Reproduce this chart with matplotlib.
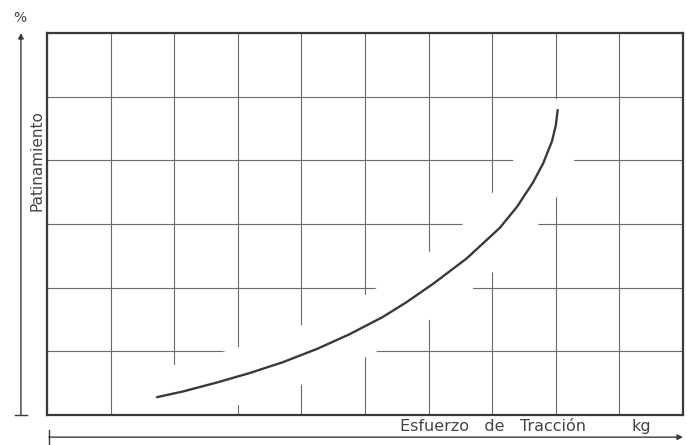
import matplotlib
matplotlib.use("Agg")
import matplotlib.pyplot as plt
from matplotlib.patches import Rectangle

# slip (%) vs tractive effort (kg) in grid units
esfuerzo = [1.73, 2.14, 2.67, 3.19, 3.71, 4.25, 4.76, 5.28, 5.65, 6.07,
            6.60, 7.12, 7.39, 7.64, 7.80, 7.94, 8.00, 8.03]
patinamiento = [0.28, 0.37, 0.51, 0.66, 0.83, 1.04, 1.27, 1.54, 1.77, 2.06,
                2.46, 2.94, 3.27, 3.65, 3.95, 4.30, 4.55, 4.79]

x_cells = list(range(11))
y_cells = list(range(7))

ink = "#3a3a3a"
grid_ink = "#6a6a6a"
label_ink = "#444444"

fig = plt.figure(figsize=(6.87, 4.45), dpi=100)
ax = fig.add_axes([47 / 687, 30 / 445, 636 / 687, 382 / 445])
ax.set_xlim(0, 10)
ax.set_ylim(0, 6)
ax.set_xticks(x_cells)
ax.set_yticks(y_cells)
ax.tick_params(length=0, labelbottom=False, labelleft=False)
ax.set_axisbelow(True)
ax.grid(True, color=grid_ink, lw=0.8)
for sp in ax.spines.values():
    sp.set_color(ink)
    sp.set_linewidth(1.6)

# white band that interrupts the grid around the curve, as in the drawing
halo, = ax.plot(esfuerzo, patinamiento, color="white", lw=40,
                solid_capstyle="round", solid_joinstyle="round", zorder=1.5)
halo.set_clip_path(Rectangle((0, 0), 10, 4.96, transform=ax.transData))

ax.plot(esfuerzo, patinamiento, color=ink, lw=1.7, zorder=2,
        solid_capstyle="round", solid_joinstyle="round")

# vertical arrow (slip)
ax.annotate("", xy=(-0.041, 1.0), xytext=(-0.041, 0.0),
            xycoords="axes fraction", textcoords="axes fraction",
            arrowprops=dict(arrowstyle="-|>", color=ink, lw=1.0,
                            mutation_scale=8, shrinkA=0, shrinkB=0))
ax.plot([-0.051, -0.031], [0, 0], transform=ax.transAxes, color=ink,
        lw=1.0, clip_on=False)
ax.text(-0.042, 1.04, "%", transform=ax.transAxes, ha="center",
        va="center", fontsize=10, color=label_ink)
ax.text(-0.015, 0.665, "Patinamiento", transform=ax.transAxes,
        rotation=90, ha="center", va="center", fontsize=11, color=label_ink)

# horizontal arrow (tractive effort)
ax.annotate("", xy=(1.0, -0.058), xytext=(0.003, -0.058),
            xycoords="axes fraction", textcoords="axes fraction",
            arrowprops=dict(arrowstyle="-|>", color=ink, lw=1.0,
                            mutation_scale=8, shrinkA=0, shrinkB=0))
ax.plot([0.003, 0.003], [-0.04, -0.078], transform=ax.transAxes, color=ink,
        lw=1.0, clip_on=False)
ax.text(0.555, -0.03, "Esfuerzo   de   Tracción", transform=ax.transAxes,
        ha="left", va="center", fontsize=11.5, color=label_ink)
ax.text(0.935, -0.03, "kg", transform=ax.transAxes, ha="center",
        va="center", fontsize=11.5, color=label_ink)

fig.savefig("out.png", dpi=100, facecolor="white")
